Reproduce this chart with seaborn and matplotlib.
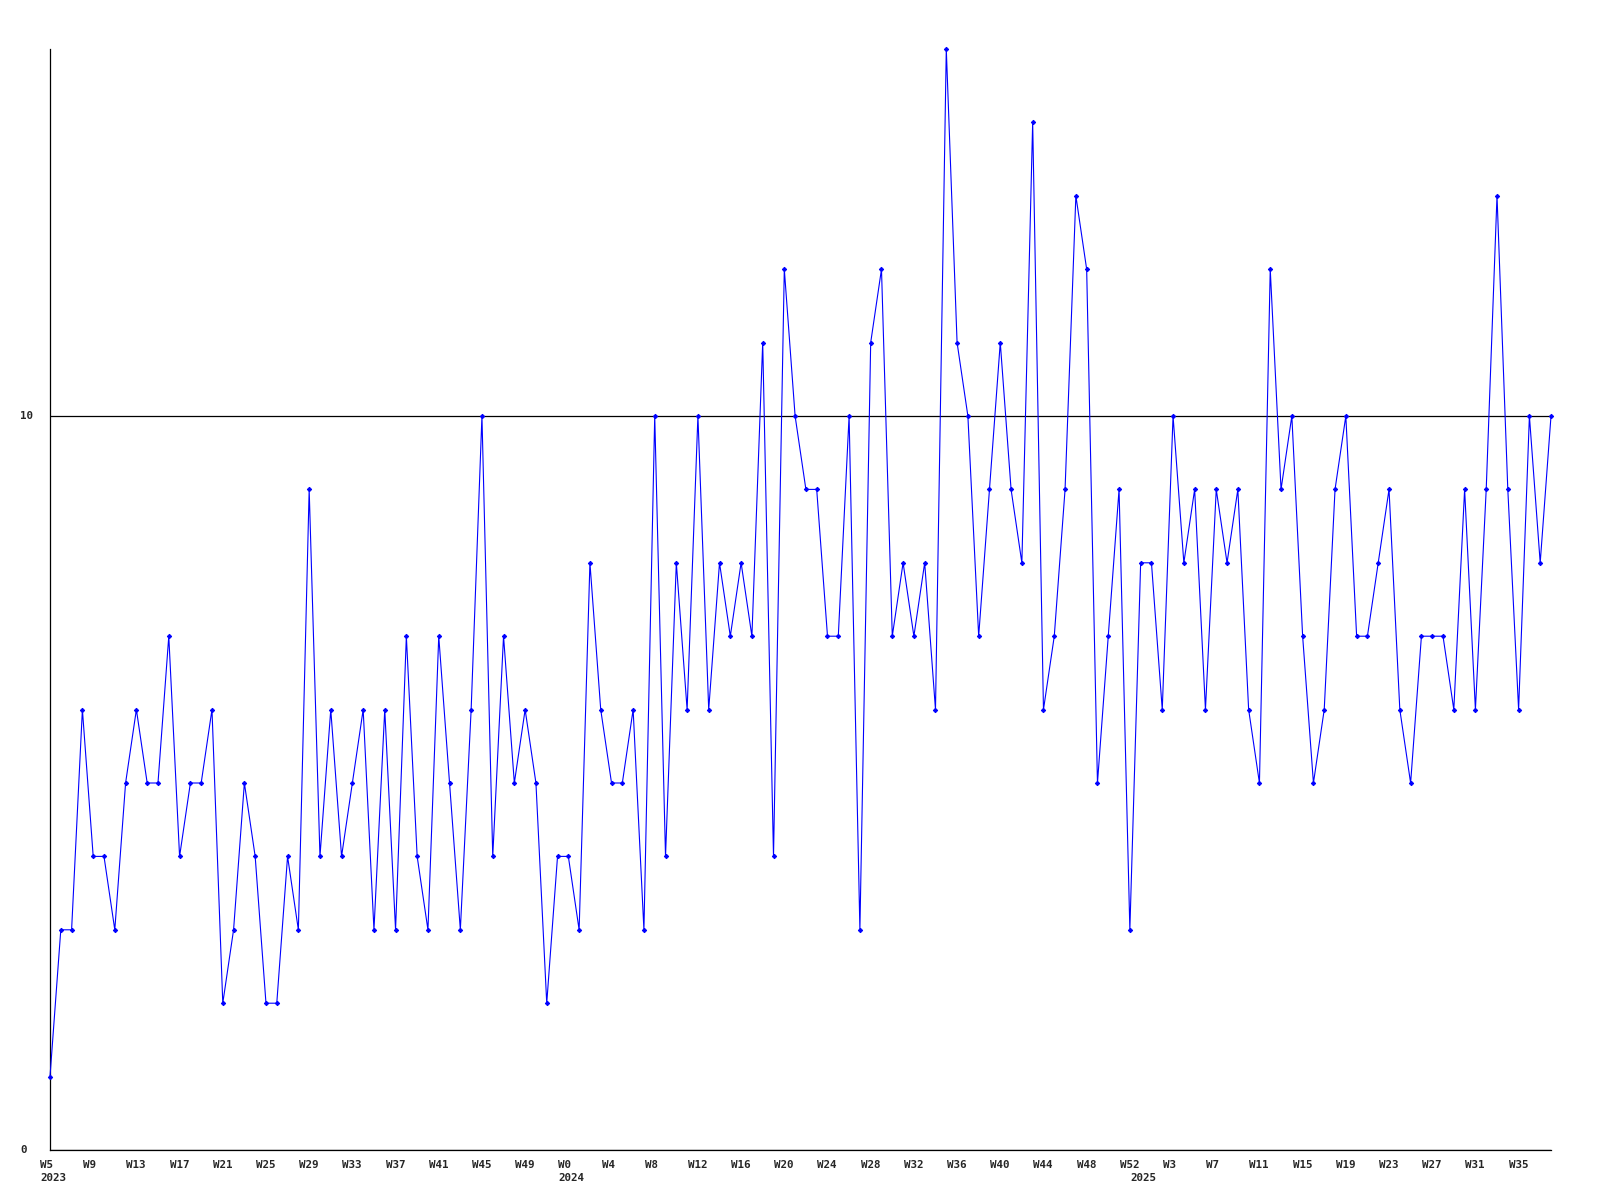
import matplotlib
matplotlib.use("Agg")
import matplotlib.pyplot as plt
import matplotlib.transforms as mtransforms
import seaborn as sns
import pandas as pd

# ---- data ----
years = [2023, 2024, 2025]
year_first_week = [5, 0, 0]
year_last_week = [52, 52, 38]

values = [
    1, 3, 3, 6, 4, 4, 3, 5, 6, 5, 5, 7, 4, 5, 5, 6, 2, 3, 5, 4,
    2, 2, 4, 3, 9, 4, 6, 4, 5, 6, 3, 6, 3, 7, 4, 3, 7, 5, 3, 6,
    10, 4, 7, 5, 6, 5, 2, 4,
    4, 3, 8, 6, 5, 5, 6, 3, 10, 4, 8, 6, 10, 6, 8, 7, 8, 7, 11, 4,
    12, 10, 9, 9, 7, 7, 10, 3, 11, 12, 7, 8, 7, 8, 6, 15, 11, 10, 7, 9,
    11, 9, 8, 14, 6, 7, 9, 13, 12, 5, 7, 9, 3,
    8, 8, 6, 10, 8, 9, 6, 9, 8, 9, 6, 5, 12, 9, 10, 7, 5, 6, 9, 10,
    7, 7, 8, 9, 6, 5, 7, 7, 7, 6, 9, 6, 9, 13, 9, 6, 10, 8, 10,
]
y_ticks = [0, 10]
y_max = 15

# ---- build week axis ----
week_year = []
week_num = []
for yr, w0, w1 in zip(years, year_first_week, year_last_week):
    for w in range(w0, w1 + 1):
        week_year.append(yr)
        week_num.append(w)

df = pd.DataFrame({"idx": range(len(values)), "value": values,
                   "year": week_year, "week": week_num})

sns.set_style("white")
plt.rcParams["font.family"] = ["DejaVu Sans Mono"]

fig = plt.figure(figsize=(16, 12), dpi=100)
ax = fig.add_axes([50 / 1600, 1 - 1150 / 1200, (1551 - 50) / 1600, (1150 - 49) / 1200])

sns.lineplot(data=df, x="idx", y="value", ax=ax, color="#0000FF",
             linewidth=0.8, marker="D", markersize=2.2,
             markeredgecolor="#0000FF", markerfacecolor="#0000FF",
             clip_on=False, zorder=3)

ax.set_xlim(0, len(values) - 1)
ax.set_ylim(0, y_max)
ax.set_xlabel("")
ax.set_ylabel("")

for s in ["top", "right"]:
    ax.spines[s].set_visible(False)
for s in ["left", "bottom"]:
    ax.spines[s].set_color("black")
    ax.spines[s].set_linewidth(0.9)

# y ticks
ax.set_yticks(y_ticks)
ax.set_yticklabels([str(t) for t in y_ticks], fontsize=7.8, fontweight="bold")
ax.tick_params(axis="y", length=0, pad=21.6)
for lab in ax.get_yticklabels():
    lab.set_horizontalalignment("left")
    lab.set_verticalalignment("center")
ax.yaxis.grid(True, color="black", linewidth=0.9)
ax.xaxis.grid(False)

# x ticks: every 4th week
tick_idx = list(range(0, len(values), 4))
ax.set_xticks(tick_idx)
ax.set_xticklabels([f"W{week_num[i]}" for i in tick_idx], fontsize=7.8, fontweight="bold")
ax.tick_params(axis="x", length=0, pad=7)
offset = mtransforms.ScaledTranslation(-10 / 100, 0, fig.dpi_scale_trans)
for lab in ax.get_xticklabels():
    lab.set_horizontalalignment("left")
    lab.set_transform(lab.get_transform() + offset)

# year labels at first week of each year
for i in range(len(values)):
    if i == 0 or week_year[i] != week_year[i - 1]:
        ax.annotate(str(week_year[i]), xy=(i, 0), xycoords=("data", "axes fraction"),
                    xytext=(-7.2, -16.6), textcoords="offset points",
                    ha="left", va="top", fontsize=7.8, fontweight="bold",
                    annotation_clip=False)

fig.savefig("out.png", dpi=100, facecolor="white")
